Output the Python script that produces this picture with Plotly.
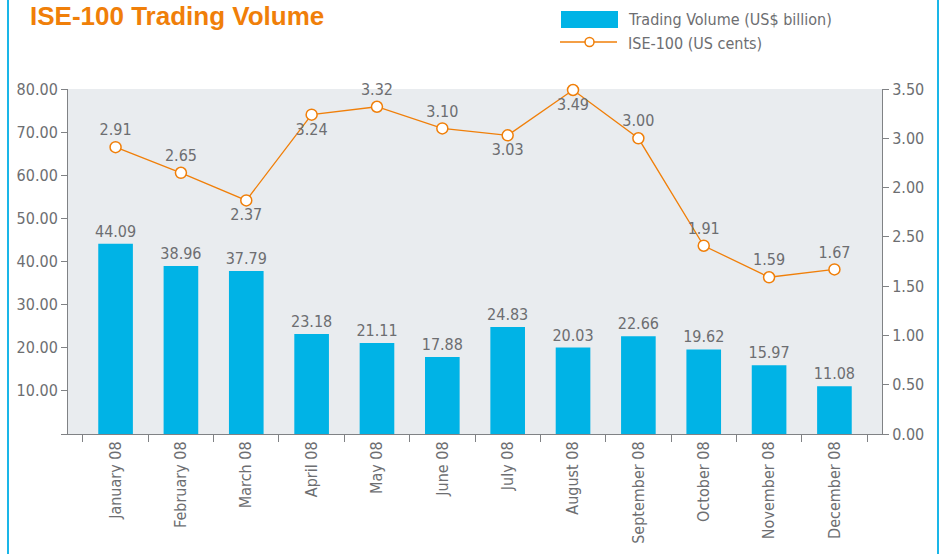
import plotly.graph_objects as go

months = ["January 08", "February 08", "March 08", "April 08", "May 08", "June 08",
          "July 08", "August 08", "September 08", "October 08", "November 08", "December 08"]
volume = [44.09, 38.96, 37.79, 23.18, 21.11, 17.88, 24.83, 20.03, 22.66, 19.62, 15.97, 11.08]
ise100 = [2.91, 2.65, 2.37, 3.24, 3.32, 3.10, 3.03, 3.49, 3.00, 1.91, 1.59, 1.67]
ise_label_pos = ["top center", "top center", "bottom center", "bottom center", "top center",
                 "top center", "bottom center", "bottom center", "top center", "top center",
                 "top center", "top center"]
left_ticks = [0, 10, 20, 30, 40, 50, 60, 70, 80]
left_labels = ["", "10.00", "20.00", "30.00", "40.00", "50.00", "60.00", "70.00", "80.00"]
right_ticks = [0, 0.5, 1.0, 1.5, 2.0, 2.5, 3.0, 3.5]
right_labels = ["0.00", "0.50", "1.00", "1.50", "2.50", "2.00", "3.00", "3.50"]
bar_name = "Trading Volume (US$ billion)"
line_name = "ISE-100 (US cents)"

GREY = "#6d6e71"
AXIS = "#808285"
BLUE = "#00b3e6"
ORANGE = "#f07f09"
FONT = "Liberation Sans Narrow, DejaVu Sans Condensed, Arial Narrow, sans-serif"

W, H = 944, 554
L, R, T, B = 68, 62, 89, 120
PW, PH = W - L - R, H - T - B


def px(x):
    return (x - L) / PW


def py(y):
    return (H - B - y) / PH


fig = go.Figure()
fig.add_trace(go.Bar(
    x=months, y=volume, name=bar_name,
    marker=dict(color=BLUE, line=dict(width=0)),
    width=0.53,
    text=[f"{v:.2f}" for v in volume], textposition="outside",
    constraintext="none",
    textfont=dict(size=16, color=GREY, family=FONT),
    cliponaxis=False, showlegend=False,
))
fig.add_trace(go.Scatter(
    x=months, y=ise100, name=line_name, yaxis="y2",
    mode="lines+markers+text",
    line=dict(color=ORANGE, width=1.3),
    marker=dict(symbol="circle", size=11, color="white", line=dict(color=ORANGE, width=1.5)),
    text=[f"{v:.2f}" for v in ise100], textposition=ise_label_pos,
    textfont=dict(size=16, color=GREY, family=FONT),
    cliponaxis=False, showlegend=False,
))

shapes = [
    dict(type="line", xref="paper", yref="paper", x0=px(8), x1=px(8), y0=py(560), y1=py(-5),
         line=dict(color="#1ab6e8", width=2)),
    dict(type="line", xref="paper", yref="paper", x0=px(938), x1=px(938), y0=py(560), y1=py(-5),
         line=dict(color="#1ab6e8", width=2)),
    # legend swatches
    dict(type="rect", xref="paper", yref="paper", x0=px(561), x1=px(618), y0=py(28), y1=py(11),
         fillcolor=BLUE, line=dict(width=0)),
    dict(type="line", xref="paper", yref="paper", x0=px(560), x1=px(617), y0=py(42), y1=py(42),
         line=dict(color=ORANGE, width=1.3)),
    dict(type="circle", xref="paper", yref="paper", x0=px(585), x1=px(594), y0=py(46.5), y1=py(37.5),
         fillcolor="white", line=dict(color=ORANGE, width=1.5)),
]
annotations = [
    dict(text=bar_name, xref="paper", yref="paper", x=px(626), y=py(19), xanchor="left", yanchor="middle",
         showarrow=False, font=dict(size=16, color=GREY, family=FONT)),
    dict(text=line_name, xref="paper", yref="paper", x=px(626), y=py(43), xanchor="left", yanchor="middle",
         showarrow=False, font=dict(size=16, color=GREY, family=FONT)),
]

fig.update_layout(
    width=W, height=H,
    margin=dict(l=L, r=R, t=T, b=B, autoexpand=False),
    paper_bgcolor="white", plot_bgcolor="#e9ecef",
    font=dict(family=FONT, color=GREY, size=16),
    showlegend=False,
    title=dict(text="<b>ISE-100 Trading Volume</b>", x=30 / W, xanchor="left", y=1 - 16 / H, yanchor="middle",
               xref="container", yref="container",
               font=dict(family="Liberation Sans, Arial, sans-serif", size=26, color=ORANGE)),
    xaxis=dict(
        showgrid=False, showline=True, linecolor=AXIS, linewidth=1, automargin=False,
        ticks="outside", tickson="boundaries", ticklen=7, tickcolor=AXIS,
        tickangle=-90, tickfont=dict(size=16, color=GREY, family=FONT),
        zeroline=False,
    ),
    yaxis=dict(
        range=[0, 80], tickvals=left_ticks, ticktext=left_labels, automargin=False,
        showgrid=False, showline=True, linecolor=AXIS, linewidth=1,
        ticks="outside", ticklen=6, tickcolor=AXIS, zeroline=False,
        tickfont=dict(size=16, color=GREY, family=FONT),
    ),
    yaxis2=dict(
        range=[0, 3.5], tickvals=right_ticks, ticktext=right_labels, automargin=False,
        overlaying="y", side="right",
        showgrid=False, showline=True, linecolor=AXIS, linewidth=1,
        ticks="outside", ticklen=6, tickcolor=AXIS, zeroline=False,
        tickfont=dict(size=16, color=GREY, family=FONT),
    ),
    shapes=shapes,
    annotations=annotations,
)

fig.write_html("out.html", config={"displayModeBar": False},
               post_script="document.body.style.margin='0';document.body.style.overflow='hidden';")
